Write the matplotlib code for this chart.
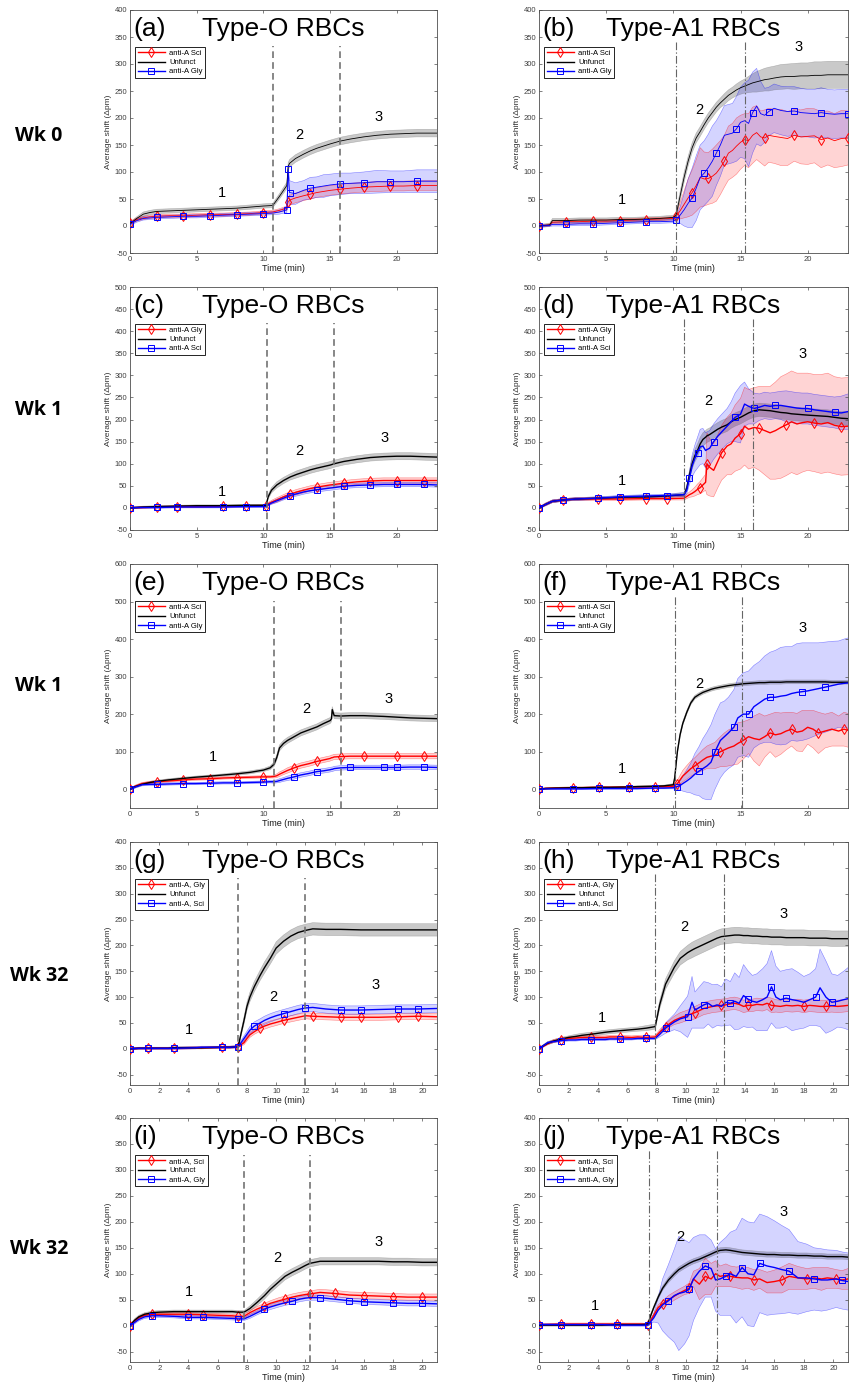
import numpy as np
import matplotlib
matplotlib.use("Agg")
import matplotlib.pyplot as plt
from matplotlib.lines import Line2D

plt.rcParams["font.family"] = ["Liberation Sans", "DejaVu Sans"]
plt.rcParams["axes.unicode_minus"] = False

OUT_PATH = "out.png"

# ---------------- data ----------------
# each panel: time grid, mean + half-width of the shaded band for red / black / blue

# (a) Wk 0, Type-O
A_T = [0, 0.2, 0.5, 1, 1.5, 2, 3, 4, 5, 6,
       7, 8, 9, 10, 10.7, 11.2, 11.75, 11.85, 11.95, 12.4,
       13, 13.5, 14, 14.5, 15, 15.7, 16.5, 17.5, 18.5, 19.5,
       20.5, 21.5, 23]
A_BLK = [5, 8, 14, 22, 25, 27, 28, 29, 30, 31,
         32, 33, 35, 37, 38, 55, 75, 110, 116, 125,
         133, 139, 144, 148, 152, 157, 161, 165, 168, 170,
         171, 172, 172]
A_BLK_SD = [3, 3, 3, 4, 4, 4, 4, 4, 4, 4,
            4, 4, 4, 4, 4, 5, 6, 7, 7, 7,
            7, 7, 7, 7, 7, 7, 7, 7, 7, 7,
            7, 7, 7]
A_RED = [5, 8, 12, 15, 17, 18, 19, 19, 20, 21,
         21, 22, 23, 25, 26, 29, 33, 45, 48, 52,
         56, 59, 62, 64, 66, 68, 70, 72, 73, 74,
         74, 75, 75]
A_RED_SD = [3, 3, 3, 3, 3, 3, 3, 3, 3, 3,
            3, 3, 3, 3, 3, 3, 4, 8, 9, 9,
            9, 9, 9, 9, 9, 9, 9, 9, 9, 9,
            9, 9, 9]
A_BLU = [3, 6, 10, 14, 15, 16, 17, 18, 18, 19,
         20, 21, 22, 23, 24, 26, 30, 105, 62, 60,
         66, 70, 72, 74, 76, 78, 79, 80, 82, 82,
         82, 83, 83]
A_BLU_SD = [3, 3, 3, 3, 3, 3, 3, 3, 3, 3,
            3, 3, 3, 3, 3, 4, 5, 8, 22, 20,
            18, 20, 19, 21, 20, 20, 19, 20, 21, 20,
            20, 21, 21]
A_VLINES = [10.7, 15.7]
A_NUMS = [(6.9, 62), (12.7, 168), (18.6, 202)]

# (b) Wk 0, Type-A1
B_T = [0, 0.8, 1.0, 2, 3, 4, 5, 6, 7, 8,
       9, 10, 10.2, 10.5, 10.8, 11.1, 11.4, 11.7, 12.0, 12.3,
       12.6, 12.9, 13.2, 13.5, 13.8, 14.1, 14.4, 14.7, 15.0, 15.3,
       15.6, 15.9, 16.2, 16.5, 16.8, 17.1, 17.5, 18.0, 18.5, 19.0,
       19.5, 20.0, 20.5, 21.0, 21.5, 22.0, 22.5, 23.0]
B_BLK = [0, 2, 10, 10, 11, 11, 11, 12, 12, 13,
         14, 16, 20, 55, 90, 120, 145, 163, 175, 188,
         200, 210, 220, 228, 235, 242, 247, 252, 256, 259,
         262, 265, 267, 269, 271, 272, 274, 276, 277, 277,
         278, 278, 279, 279, 280, 280, 280, 280]
B_BLK_SD = [3, 3, 4, 4, 4, 4, 4, 4, 4, 4,
            4, 4, 5, 8, 9, 9, 9, 9, 9, 9,
            9, 9, 9, 9, 10, 10, 10, 11, 12, 13,
            15, 17, 19, 20, 21, 22, 22, 23, 23, 24,
            24, 24, 25, 25, 25, 25, 25, 25]
B_RED = [0, 2, 7, 8, 8, 9, 9, 10, 11, 12,
         13, 14, 18, 28, 40, 52, 62, 75, 90, 87,
         88, 92, 98, 108, 120, 135, 140, 148, 155, 160,
         158, 168, 173, 165, 163, 168, 166, 164, 162, 168,
         165, 166, 167, 160, 163, 158, 162, 163]
B_RED_SD = [2, 2, 3, 3, 3, 3, 3, 3, 3, 3,
            3, 3, 4, 15, 25, 35, 42, 48, 55, 50,
            48, 50, 52, 50, 48, 50, 50, 52, 50, 48,
            50, 52, 50, 48, 52, 50, 50, 52, 50, 48,
            50, 52, 50, 52, 50, 50, 52, 50]
B_BLU = [0, 1, 3, 3, 4, 4, 5, 6, 7, 8,
         8, 9, 12, 20, 30, 42, 52, 70, 90, 98,
         108, 120, 135, 150, 168, 170, 172, 180, 192, 195,
         190, 210, 222, 208, 205, 212, 218, 214, 212, 213,
         210, 209, 208, 210, 208, 207, 208, 208]
B_BLU_SD = [2, 2, 3, 3, 3, 3, 3, 3, 3, 3,
            3, 3, 4, 15, 30, 45, 55, 60, 60, 60,
            62, 65, 60, 58, 55, 55, 55, 60, 65, 70,
            80, 75, 70, 60, 50, 45, 45, 45, 46, 45,
            45, 44, 45, 46, 45, 45, 45, 45]
B_VLINES = [10.2, 15.3]
B_NUMS = [(6.2, 48), (11.9, 215), (19.3, 332)]

# (c) Wk 1, Type-O
C_T = [0, 1, 2, 3.5, 5, 7, 8.7, 10.2, 10.35, 10.6,
       11, 11.5, 12, 12.5, 13, 13.5, 14, 15, 15.3, 16,
       17, 18, 19, 20, 21, 22, 23]
C_BLK = [0, 2, 3, 4, 5, 5, 6, 6, 25, 40,
         52, 62, 70, 76, 81, 86, 90, 97, 100, 105,
         110, 114, 116, 117, 117, 116, 115]
C_BLK_SD = [2, 2, 2, 2, 2, 2, 2, 2, 5, 6,
            7, 7, 7, 8, 8, 8, 8, 8, 8, 8,
            8, 8, 8, 8, 8, 8, 8]
C_RED = [0, 1, 2, 3, 3, 4, 4, 5, 9, 13,
         18, 25, 31, 36, 40, 44, 47, 52, 53, 56,
         59, 61, 62, 62, 62, 62, 62]
C_RED_SD = [2, 2, 2, 2, 2, 2, 2, 2, 3, 4,
            5, 5, 6, 6, 6, 6, 6, 6, 6, 6,
            6, 6, 6, 6, 6, 6, 6]
C_BLU = [0, 1, 1, 2, 2, 2, 3, 3, 7, 11,
         16, 22, 28, 32, 36, 39, 41, 45, 46, 49,
         51, 52, 53, 53, 53, 53, 52]
C_BLU_SD = [2, 2, 2, 2, 2, 2, 2, 2, 3, 3,
            4, 4, 4, 5, 5, 5, 5, 5, 5, 5,
            5, 5, 5, 5, 5, 5, 5]
C_VLINES = [10.3, 15.3]
C_NUMS = [(6.9, 36), (12.7, 128), (19.1, 158)]

# (d) Wk 1, Type-A1
D_T = [0, 0.5, 1, 1.8, 2.7, 3.5, 4.4, 6, 8, 9.5,
       10.8, 11.0, 11.2, 11.4, 11.6, 11.8, 12.0, 12.2, 12.4, 12.5,
       12.7, 13.0, 13.3, 13.6, 14.0, 14.3, 14.6, 15.0, 15.3, 15.6,
       16.0, 16.4, 16.8, 17.2, 17.6, 18.0, 18.4, 18.8, 19.2, 19.6,
       20.0, 20.5, 21.0, 21.5, 22.0, 22.5, 23.0]
D_BLK = [0, 8, 15, 18, 20, 21, 22, 24, 25, 27,
         30, 45, 75, 100, 118, 130, 145, 155, 160, 163,
         166, 172, 178, 183, 188, 195, 200, 205, 210, 215,
         220, 222, 221, 220, 218, 216, 215, 213, 212, 211,
         210, 209, 208, 207, 205, 203, 202]
D_BLK_SD = [2, 3, 3, 3, 3, 3, 3, 3, 3, 3,
            4, 6, 10, 12, 14, 15, 15, 15, 15, 15,
            15, 15, 15, 15, 15, 15, 15, 15, 15, 15,
            15, 15, 15, 15, 15, 15, 15, 15, 15, 15,
            15, 15, 15, 15, 15, 15, 15]
D_RED = [0, 8, 15, 18, 20, 20, 20, 20, 21, 21,
         22, 26, 30, 33, 37, 42, 46, 52, 58, 100,
         92, 85, 105, 125, 140, 145, 158, 168, 185, 178,
         182, 180, 175, 170, 175, 182, 188, 195, 190, 193,
         195, 192, 190, 193, 187, 184, 185]
D_RED_SD = [2, 3, 3, 3, 3, 3, 3, 3, 3, 3,
            4, 5, 6, 8, 10, 12, 14, 16, 18, 70,
            65, 60, 60, 62, 65, 70, 75, 80, 88, 90,
            90, 95, 100, 105, 110, 115, 115, 115, 115, 112,
            110, 110, 112, 112, 110, 110, 110]
D_BLU = [0, 8, 15, 18, 20, 21, 22, 25, 27, 28,
         30, 40, 68, 95, 112, 125, 138, 140, 130, 132,
         135, 150, 162, 172, 185, 195, 205, 212, 235, 230,
         225, 228, 232, 230, 232, 232, 230, 228, 226, 225,
         225, 222, 220, 218, 216, 215, 218]
D_BLU_SD = [2, 3, 3, 3, 3, 3, 3, 3, 3, 3,
            5, 8, 15, 25, 30, 35, 40, 40, 40, 40,
            40, 40, 40, 40, 40, 45, 55, 65, 50, 40,
            35, 30, 30, 30, 30, 32, 35, 35, 35, 35,
            35, 35, 35, 35, 35, 38, 40]
D_VLINES = [10.8, 15.9]
D_NUMS = [(6.2, 61), (12.6, 241), (19.6, 349)]

# (e) Wk 1 (repeat), Type-O
E_T = [0, 0.4, 0.9, 1.5, 2, 2.9, 4, 4.9, 6, 7,
       8, 9, 10, 10.5, 10.8, 11, 11.2, 11.5, 11.8, 12.3,
       12.8, 13.4, 14, 14.5, 15, 15.1, 15.15, 15.3, 15.8, 16.5,
       17.5, 19, 20, 21, 22, 23]
E_BLK = [0, 7, 13, 18, 21, 25, 29, 32, 35, 38,
         41, 45, 51, 57, 67, 85, 110, 122, 130, 140,
         150, 158, 166, 175, 183, 188, 212, 196, 195, 196,
         196, 194, 192, 190, 189, 188]
E_BLK_SD = [2, 3, 3, 3, 3, 3, 3, 3, 3, 3,
            4, 4, 4, 5, 6, 7, 8, 8, 8, 8,
            8, 8, 8, 8, 8, 8, 8, 8, 8, 8,
            8, 8, 8, 8, 8, 8]
E_RED = [0, 8, 15, 18, 20, 22, 25, 27, 28, 30,
         31, 32, 33, 33, 34, 36, 40, 45, 50, 57,
         63, 68, 74, 78, 82, 84, 84, 86, 87, 88,
         88, 88, 88, 88, 88, 88]
E_RED_SD = [2, 3, 3, 3, 3, 3, 3, 3, 3, 3,
            3, 3, 3, 3, 4, 5, 6, 6, 7, 7,
            7, 7, 7, 7, 7, 7, 7, 7, 7, 7,
            7, 7, 7, 7, 7, 7]
E_BLU = [0, 6, 12, 13, 13, 14, 15, 15, 16, 17,
         17, 18, 19, 20, 20, 21, 23, 26, 29, 33,
         38, 42, 47, 49, 52, 53, 53, 55, 57, 58,
         58, 58, 58, 59, 59, 58]
E_BLU_SD = [2, 3, 3, 3, 3, 3, 3, 3, 3, 3,
            3, 3, 3, 3, 4, 4, 5, 5, 6, 6,
            6, 6, 6, 6, 6, 6, 6, 6, 6, 6,
            6, 6, 6, 6, 6, 6]
E_VLINES = [10.8, 15.8]
E_NUMS = [(6.2, 85), (13.2, 214), (19.4, 241)]

# (f) Wk 1 (repeat), Type-A1
F_T = [0, 0.5, 1.2, 2.5, 3.2, 4.5, 5.3, 6.7, 7.3, 8.6,
       9.3, 10, 10.1, 10.3, 10.5, 10.7, 11, 11.3, 11.6, 11.9,
       12.2, 12.5, 12.8, 13.1, 13.5, 13.8, 14.1, 14.5, 14.8, 15.2,
       15.6, 16, 16.4, 16.8, 17.2, 17.6, 18, 18.4, 18.8, 19.2,
       19.6, 20, 20.4, 20.8, 21.3, 21.8, 22.3, 22.7, 23]
F_BLK = [0, 2, 3, 4, 4, 5, 5, 6, 7, 8,
         9, 12, 30, 100, 145, 175, 205, 230, 245, 252,
         258, 262, 266, 269, 272, 274, 276, 278, 279, 281,
         282, 283, 284, 284, 285, 285, 285, 286, 286, 286,
         286, 286, 286, 286, 286, 285, 285, 285, 285]
F_BLK_SD = [2, 2, 2, 2, 2, 2, 2, 2, 2, 2,
            2, 3, 4, 5, 5, 5, 5, 5, 5, 5,
            5, 5, 5, 5, 5, 5, 5, 5, 5, 5,
            5, 5, 5, 5, 5, 5, 5, 5, 5, 5,
            5, 5, 5, 5, 5, 5, 5, 5, 5]
F_RED = [0, 2, 3, 4, 4, 5, 5, 6, 6, 7,
         7, 8, 10, 15, 25, 35, 45, 55, 62, 70,
         78, 85, 88, 90, 100, 105, 110, 115, 122, 130,
         140, 135, 132, 140, 150, 145, 148, 155, 160, 152,
         155, 165, 160, 150, 155, 160, 155, 160, 157]
F_RED_SD = [2, 2, 2, 2, 2, 2, 2, 2, 2, 2,
            2, 3, 5, 8, 12, 15, 18, 20, 22, 25,
            28, 30, 32, 35, 40, 45, 48, 50, 55, 50,
            45, 60, 70, 55, 50, 60, 55, 50, 45, 50,
            55, 45, 50, 55, 45, 45, 40, 45, 45]
F_BLU = [0, 1, 1, 1, 1, 2, 2, 2, 2, 3,
         3, 4, 5, 7, 10, 15, 22, 30, 40, 48,
         55, 62, 72, 100, 130, 140, 150, 165, 190, 200,
         200, 220, 230, 240, 245, 245, 248, 250, 255, 258,
         260, 262, 265, 268, 272, 276, 280, 282, 283]
F_BLU_SD = [2, 2, 2, 2, 2, 2, 2, 2, 2, 2,
            2, 3, 5, 8, 12, 20, 30, 40, 55, 65,
            80, 90, 100, 100, 100, 95, 95, 100, 105, 110,
            115, 110, 110, 115, 120, 125, 130, 130, 125, 130,
            130, 128, 125, 122, 120, 118, 115, 118, 120]
F_VLINES = [10.1, 15.1]
F_NUMS = [(6.2, 53), (11.9, 281), (19.6, 430)]

# (g) Wk 32, Type-O
G_T = [0, 0.6, 1.2, 2.6, 3, 4.5, 4.9, 6.3, 6.8, 7.4,
       7.6, 7.8, 8.0, 8.2, 8.5, 8.9, 9.2, 9.6, 10, 10.5,
       11, 11.5, 12, 12.5, 13.4, 14.4, 15.8, 17, 18.3, 19.7,
       21]
G_BLK = [0, 1, 1, 1, 2, 2, 2, 3, 3, 4,
         30, 55, 82, 100, 120, 142, 157, 175, 195, 208,
         218, 225, 229, 232, 231, 231, 230, 230, 230, 230,
         230]
G_BLK_SD = [2, 2, 2, 2, 2, 2, 2, 2, 2, 2,
            5, 7, 8, 9, 10, 10, 11, 11, 12, 12,
            12, 12, 12, 12, 12, 12, 12, 12, 12, 12,
            12]
G_RED = [0, 1, 1, 1, 1, 2, 2, 3, 3, 4,
         8, 12, 20, 27, 33, 40, 44, 48, 51, 55,
         58, 61, 64, 63, 62, 61, 61, 61, 62, 63,
         62]
G_RED_SD = [2, 2, 2, 2, 2, 2, 2, 2, 2, 2,
            3, 4, 5, 5, 5, 6, 6, 6, 6, 6,
            6, 6, 6, 6, 6, 6, 6, 6, 6, 6,
            6]
G_BLU = [0, 1, 1, 1, 1, 2, 3, 3, 3, 4,
         12, 20, 28, 36, 44, 50, 55, 60, 64, 68,
         72, 76, 79, 80, 77, 75, 75, 76, 77, 77,
         78]
G_BLU_SD = [2, 2, 2, 2, 2, 2, 2, 2, 2, 2,
            4, 5, 6, 7, 8, 8, 8, 8, 8, 8,
            8, 8, 8, 8, 8, 8, 8, 8, 8, 8,
            8]
G_VLINES = [7.4, 12.0]
G_NUMS = [(4.0, 37), (9.8, 100), (16.8, 123)]

# (h) Wk 32, Type-A1
H_T = [0, 0.3, 0.6, 1, 1.5, 2, 2.5, 2.9, 3.5, 4,
       4.5, 4.8, 5.5, 6.3, 6.7, 7.3, 7.9, 8.2, 8.6, 9.2,
       9.6, 10.1, 10.4, 10.6, 10.9, 11.2, 11.5, 11.8, 12.1, 12.4,
       12.7, 13, 13.3, 13.6, 13.9, 14.2, 14.5, 14.8, 15.2, 15.5,
       15.8, 16.1, 16.4, 16.8, 17.2, 17.6, 18, 18.4, 18.8, 19.1,
       19.5, 19.9, 20.3, 20.7, 21]
H_BLK = [0, 6, 11, 15, 19, 22, 24, 26, 28, 30,
         32, 33, 35, 37, 38, 40, 43, 85, 125, 158,
         175, 186, 191, 194, 198, 202, 206, 210, 214, 217,
         218, 219, 220, 220, 219, 219, 218, 218, 217, 217,
         216, 216, 216, 215, 215, 215, 215, 214, 214, 214,
         214, 213, 213, 213, 213]
H_BLK_SD = [2, 2, 3, 3, 3, 3, 4, 4, 4, 4,
            4, 4, 4, 4, 4, 5, 5, 8, 10, 12,
            13, 14, 15, 15, 15, 15, 15, 15, 15, 15,
            15, 15, 15, 15, 15, 15, 15, 15, 15, 15,
            15, 15, 15, 15, 15, 15, 15, 15, 15, 15,
            15, 15, 15, 15, 15]
H_RED = [0, 5, 10, 15, 18, 20, 21, 22, 22, 22,
         22, 23, 23, 22, 23, 22, 23, 32, 43, 55,
         60, 65, 68, 70, 74, 78, 80, 82, 83, 84,
         85, 87, 88, 86, 82, 84, 84, 86, 85, 88,
         84, 83, 82, 84, 83, 84, 82, 84, 83, 82,
         82, 83, 82, 83, 84]
H_RED_SD = [2, 2, 2, 3, 3, 3, 3, 3, 3, 3,
            3, 3, 3, 3, 3, 3, 3, 5, 6, 8,
            10, 10, 12, 12, 12, 12, 12, 12, 12, 12,
            12, 12, 12, 12, 12, 12, 12, 12, 12, 12,
            14, 12, 12, 12, 12, 12, 12, 12, 12, 12,
            12, 12, 12, 12, 12]
H_BLU = [0, 6, 12, 14, 16, 17, 17, 18, 18, 18,
         18, 19, 19, 19, 20, 20, 20, 28, 40, 52,
         58, 62, 90, 75, 80, 85, 88, 82, 85, 82,
         90, 88, 92, 88, 103, 96, 92, 90, 95, 100,
         120, 100, 95, 98, 95, 93, 90, 95, 100, 118,
         100, 90, 92, 95, 97]
H_BLU_SD = [2, 2, 2, 2, 2, 2, 2, 2, 2, 2,
            2, 2, 2, 2, 2, 2, 2, 5, 10, 15,
            25, 40, 50, 35, 40, 45, 40, 42, 40, 38,
            45, 42, 55, 50, 60, 55, 50, 55, 60, 65,
            70, 60, 55, 55, 60, 55, 50, 50, 55, 75,
            70, 55, 50, 55, 60]
H_VLINES = [7.9, 12.6]
H_NUMS = [(4.3, 59), (9.9, 236), (16.6, 260)]

# (i) Wk 32 (repeat), Type-O
I_T = [0, 0.3, 0.6, 1, 1.5, 2, 3, 4, 5, 6,
       7, 7.4, 7.8, 8.2, 8.7, 9.2, 9.6, 10.2, 10.6, 11.1,
       11.6, 12, 12.3, 13, 14, 15, 16, 17, 18, 19,
       20, 21]
I_BLK = [0, 10, 17, 22, 25, 26, 27, 27, 27, 27,
         27, 26, 26, 33, 45, 58, 70, 85, 95, 103,
         110, 116, 120, 124, 124, 124, 124, 124, 123, 123,
         122, 122]
I_BLK_SD = [2, 3, 3, 3, 3, 3, 3, 3, 3, 3,
            3, 3, 3, 5, 6, 7, 7, 7, 7, 7,
            7, 7, 7, 7, 7, 7, 7, 7, 7, 7,
            7, 7]
I_RED = [0, 8, 15, 20, 22, 22, 22, 22, 21, 20,
         19, 18, 18, 25, 32, 38, 43, 48, 51, 55,
         58, 60, 61, 64, 62, 59, 58, 57, 56, 55,
         55, 55]
I_RED_SD = [2, 3, 3, 3, 3, 3, 3, 3, 3, 3,
            3, 3, 3, 4, 5, 5, 5, 6, 6, 6,
            6, 6, 6, 6, 6, 6, 6, 6, 6, 6,
            6, 6]
I_BLU = [0, 6, 12, 17, 19, 19, 18, 16, 16, 15,
         14, 13, 13, 18, 25, 32, 36, 41, 44, 47,
         51, 53, 54, 54, 51, 48, 46, 45, 44, 43,
         43, 42]
I_BLU_SD = [2, 3, 3, 3, 3, 3, 3, 3, 3, 3,
            3, 3, 3, 4, 4, 5, 5, 5, 5, 5,
            5, 5, 5, 5, 5, 5, 5, 5, 5, 5,
            5, 5]
I_VLINES = [7.8, 12.3]
I_NUMS = [(4.0, 64), (10.1, 130), (17.0, 162)]

# (j) Wk 32 (repeat), Type-A1
J_T = [0, 0.4, 1.5, 2.4, 3.5, 4.3, 5.3, 6.2, 7, 7.4,
       7.6, 7.8, 8.1, 8.4, 8.8, 9.2, 9.5, 9.9, 10.2, 10.5,
       10.9, 11.3, 11.7, 12, 12.3, 12.7, 13, 13.4, 13.8, 14.2,
       14.6, 15, 15.5, 16, 16.5, 17, 17.6, 18.2, 18.7, 19.2,
       19.6, 20.2, 20.6, 21]
J_BLK = [1, 1, 1, 1, 1, 1, 2, 2, 2, 3,
         20, 35, 55, 72, 88, 100, 108, 115, 120, 124,
         128, 133, 138, 142, 145, 146, 145, 143, 141, 140,
         139, 138, 137, 137, 136, 136, 135, 135, 134, 134,
         133, 133, 133, 132]
J_BLK_SD = [2, 2, 2, 2, 2, 2, 2, 2, 2, 2,
            3, 3, 4, 4, 5, 5, 5, 5, 5, 5,
            5, 5, 5, 5, 5, 5, 5, 5, 5, 5,
            5, 5, 5, 5, 5, 5, 5, 5, 5, 5,
            5, 5, 5, 5]
J_RED = [2, 2, 3, 3, 3, 3, 3, 3, 3, 2,
         10, 20, 35, 42, 50, 57, 62, 68, 72, 90,
         80, 95, 90, 100, 95, 97, 95, 93, 92, 92,
         88, 90, 83, 85, 88, 95, 92, 90, 92, 90,
         92, 90, 88, 90]
J_RED_SD = [2, 2, 2, 2, 2, 2, 2, 2, 2, 2,
            3, 4, 5, 6, 8, 8, 8, 8, 10, 15,
            30, 35, 30, 25, 20, 22, 20, 20, 22, 20,
            20, 18, 20, 22, 25, 25, 22, 20, 20, 22,
            20, 18, 18, 20]
J_BLU = [2, 2, 2, 2, 2, 2, 1, 1, 1, 1,
         8, 15, 30, 40, 48, 58, 62, 65, 70, 90,
         105, 115, 110, 88, 90, 95, 100, 95, 112, 100,
         98, 120, 115, 112, 108, 105, 92, 92, 90, 88,
         88, 90, 87, 85]
J_BLU_SD = [2, 2, 2, 2, 2, 2, 2, 2, 2, 2,
            4, 8, 25, 50, 70, 90, 110, 100, 90, 80,
            70, 60, 55, 60, 70, 75, 80, 90, 95, 100,
            100, 95, 95, 90, 85, 80, 70, 65, 60, 60,
            58, 55, 55, 55]
J_VLINES = [7.5, 12.1]
J_NUMS = [(3.8, 37), (9.6, 170), (16.6, 218)]

# legends (red entry first, then black, then blue)
LEG_AB = ["anti-A Sci", "Unfunct", "anti-A Gly"]
LEG_CD = ["anti-A Gly", "Unfunct", "anti-A Sci"]
LEG_EF = ["anti-A Sci", "Unfunct", "anti-A Gly"]
LEG_GH = ["anti-A, Gly", "Unfunct", "anti-A, Sci"]
LEG_IJ = ["anti-A, Sci", "Unfunct", "anti-A, Gly"]

ROW_LABELS = ["Wk 0", "Wk 1", "Wk 1", "Wk 32", "Wk 32"]
COL_TITLES = ["Type-O RBCs", "Type-A1 RBCs"]

# per row axis setup
ROW_XLIM = [23, 23, 23, 21, 21]
ROW_XTICKS = [range(0, 21, 5)] * 3 + [range(0, 21, 2)] * 2
ROW_YLIM = [(-50, 400), (-50, 500), (-50, 600), (-70, 400), (-70, 400)]
ROW_YTICKS = [range(-50, 401, 50), range(-50, 501, 50), range(0, 601, 100),
              range(-50, 401, 50), range(-50, 401, 50)]
ROW_LW = [0.6, 1.0, 1.0, 1.0, 1.0]

PANELS = [
    ("(a)", A_T, A_RED, A_RED_SD, A_BLK, A_BLK_SD, A_BLU, A_BLU_SD, A_VLINES, A_NUMS, LEG_AB),
    ("(b)", B_T, B_RED, B_RED_SD, B_BLK, B_BLK_SD, B_BLU, B_BLU_SD, B_VLINES, B_NUMS, LEG_AB),
    ("(c)", C_T, C_RED, C_RED_SD, C_BLK, C_BLK_SD, C_BLU, C_BLU_SD, C_VLINES, C_NUMS, LEG_CD),
    ("(d)", D_T, D_RED, D_RED_SD, D_BLK, D_BLK_SD, D_BLU, D_BLU_SD, D_VLINES, D_NUMS, LEG_CD),
    ("(e)", E_T, E_RED, E_RED_SD, E_BLK, E_BLK_SD, E_BLU, E_BLU_SD, E_VLINES, E_NUMS, LEG_EF),
    ("(f)", F_T, F_RED, F_RED_SD, F_BLK, F_BLK_SD, F_BLU, F_BLU_SD, F_VLINES, F_NUMS, LEG_EF),
    ("(g)", G_T, G_RED, G_RED_SD, G_BLK, G_BLK_SD, G_BLU, G_BLU_SD, G_VLINES, G_NUMS, LEG_GH),
    ("(h)", H_T, H_RED, H_RED_SD, H_BLK, H_BLK_SD, H_BLU, H_BLU_SD, H_VLINES, H_NUMS, LEG_GH),
    ("(i)", I_T, I_RED, I_RED_SD, I_BLK, I_BLK_SD, I_BLU, I_BLU_SD, I_VLINES, I_NUMS, LEG_IJ),
    ("(j)", J_T, J_RED, J_RED_SD, J_BLK, J_BLK_SD, J_BLU, J_BLU_SD, J_VLINES, J_NUMS, LEG_IJ),
]

# ---------------- layout ----------------
W, H = 851, 1383
COL_X = [(130, 437), (539, 848)]
ROW_Y = [(10, 253), (287, 530), (564, 808), (842, 1085), (1118, 1362)]
ROW_LABEL_Y = [136, 410, 686, 976, 1249]

RED = (1.0, 0.0, 0.0)
BLUE = (0.0, 0.0, 1.0)
GREY = (0.45, 0.45, 0.45)


def band(ax, t, mean, sd, color, alpha):
    mean = np.asarray(mean, float)
    sd = np.asarray(sd, float)
    ax.fill_between(t, mean - sd, mean + sd, facecolor=color, alpha=alpha,
                    edgecolor="none", zorder=1)
    ax.plot(t, mean - sd, color=color, lw=0.4, alpha=0.45, zorder=1.5)
    ax.plot(t, mean + sd, color=color, lw=0.4, alpha=0.45, zorder=1.5)


def main():
    fig = plt.figure(figsize=(W / 100, H / 100), dpi=100)

    for i, p in enumerate(PANELS):
        tag, t, red, red_sd, blk, blk_sd, blu, blu_sd, vlines, nums, leg = p
        for arr in (red, red_sd, blk, blk_sd, blu, blu_sd):
            assert len(arr) == len(t), (tag, len(arr), len(t))
        row, col = divmod(i, 2)
        x0, x1 = COL_X[col]
        y0, y1 = ROW_Y[row]
        ax = fig.add_axes([x0 / W, 1 - y1 / H, (x1 - x0) / W, (y1 - y0) / H])
        t = np.asarray(t, float)
        lw = ROW_LW[row]

        # shaded bands
        band(ax, t, blk, blk_sd, GREY, 0.38)
        band(ax, t, red, red_sd, RED, 0.17)
        band(ax, t, blu, blu_sd, BLUE, 0.17)

        # mean curves
        ax.plot(t, red, color=RED, lw=lw, marker="d", ms=5, mfc="none", mew=0.7,
                markevery=(0.0, 0.07), zorder=3)
        ax.plot(t, blk, color="k", lw=lw, zorder=3)
        ax.plot(t, blu, color=BLUE, lw=lw, marker="s", ms=3.8, mfc="none", mew=0.7,
                markevery=(0.0, 0.07), zorder=3.2)

        # phase boundaries
        for xv in vlines:
            if col == 0:
                ax.axvline(xv, ymin=0, ymax=0.85, color="0.45", lw=1.2,
                           dashes=(4, 2.5), zorder=4)
            else:
                ax.axvline(xv, ymin=0, ymax=0.87, color="0.4", lw=0.8,
                           dashes=(7, 2, 1.2, 2), zorder=4)
        for k, (xt, yt) in enumerate(nums):
            ax.text(xt, yt, str(k + 1), fontsize=10.5, ha="center", va="center", zorder=5)

        ax.set_xlim(0, ROW_XLIM[row])
        ax.set_ylim(*ROW_YLIM[row])
        ax.set_xticks(list(ROW_XTICKS[row]))
        ax.set_yticks(list(ROW_YTICKS[row]))
        ax.tick_params(direction="in", length=2.5, width=0.5, labelsize=5.5,
                       colors="0.3", labelcolor="0.25", top=True, right=True, pad=2)
        for s in ax.spines.values():
            s.set_linewidth(0.6)
            s.set_color("0.3")
        ax.set_ylabel("Average shift (\u0394pm)", fontsize=6, color="0.2", labelpad=2)
        ax.set_xlabel("Time (min)", fontsize=6.5, color="0.1", labelpad=1)

        # panel tag + title inside axes
        ax.text(0.01, 0.893, tag, transform=ax.transAxes, fontsize=19, va="baseline", zorder=6)
        ax.text(0.5, 0.893, COL_TITLES[col], transform=ax.transAxes, fontsize=19,
                ha="center", va="baseline", zorder=6)

        handles = [
            Line2D([], [], color=RED, lw=1.0, marker="d", ms=5, mfc="none", mew=0.7),
            Line2D([], [], color="k", lw=1.0),
            Line2D([], [], color=BLUE, lw=1.0, marker="s", ms=3.8, mfc="none", mew=0.7),
        ]
        lg = ax.legend(handles, leg, loc="upper left", bbox_to_anchor=(0.016, 0.848),
                       fontsize=5.5, handlelength=3.6, handletextpad=0.5,
                       borderpad=0.35, labelspacing=0.25, borderaxespad=0,
                       frameon=True, fancybox=False, framealpha=1, edgecolor="k")
        lg.get_frame().set_linewidth(0.6)
        lg.set_zorder(7)

    for lab, yc in zip(ROW_LABELS, ROW_LABEL_Y):
        fig.text(39 / W, 1 - yc / H, lab, fontsize=14, fontweight="bold",
                 family=["Open Sans", "DejaVu Sans"], ha="center", va="center")

    fig.savefig(OUT_PATH, dpi=100)


if __name__ == "__main__":
    main()
